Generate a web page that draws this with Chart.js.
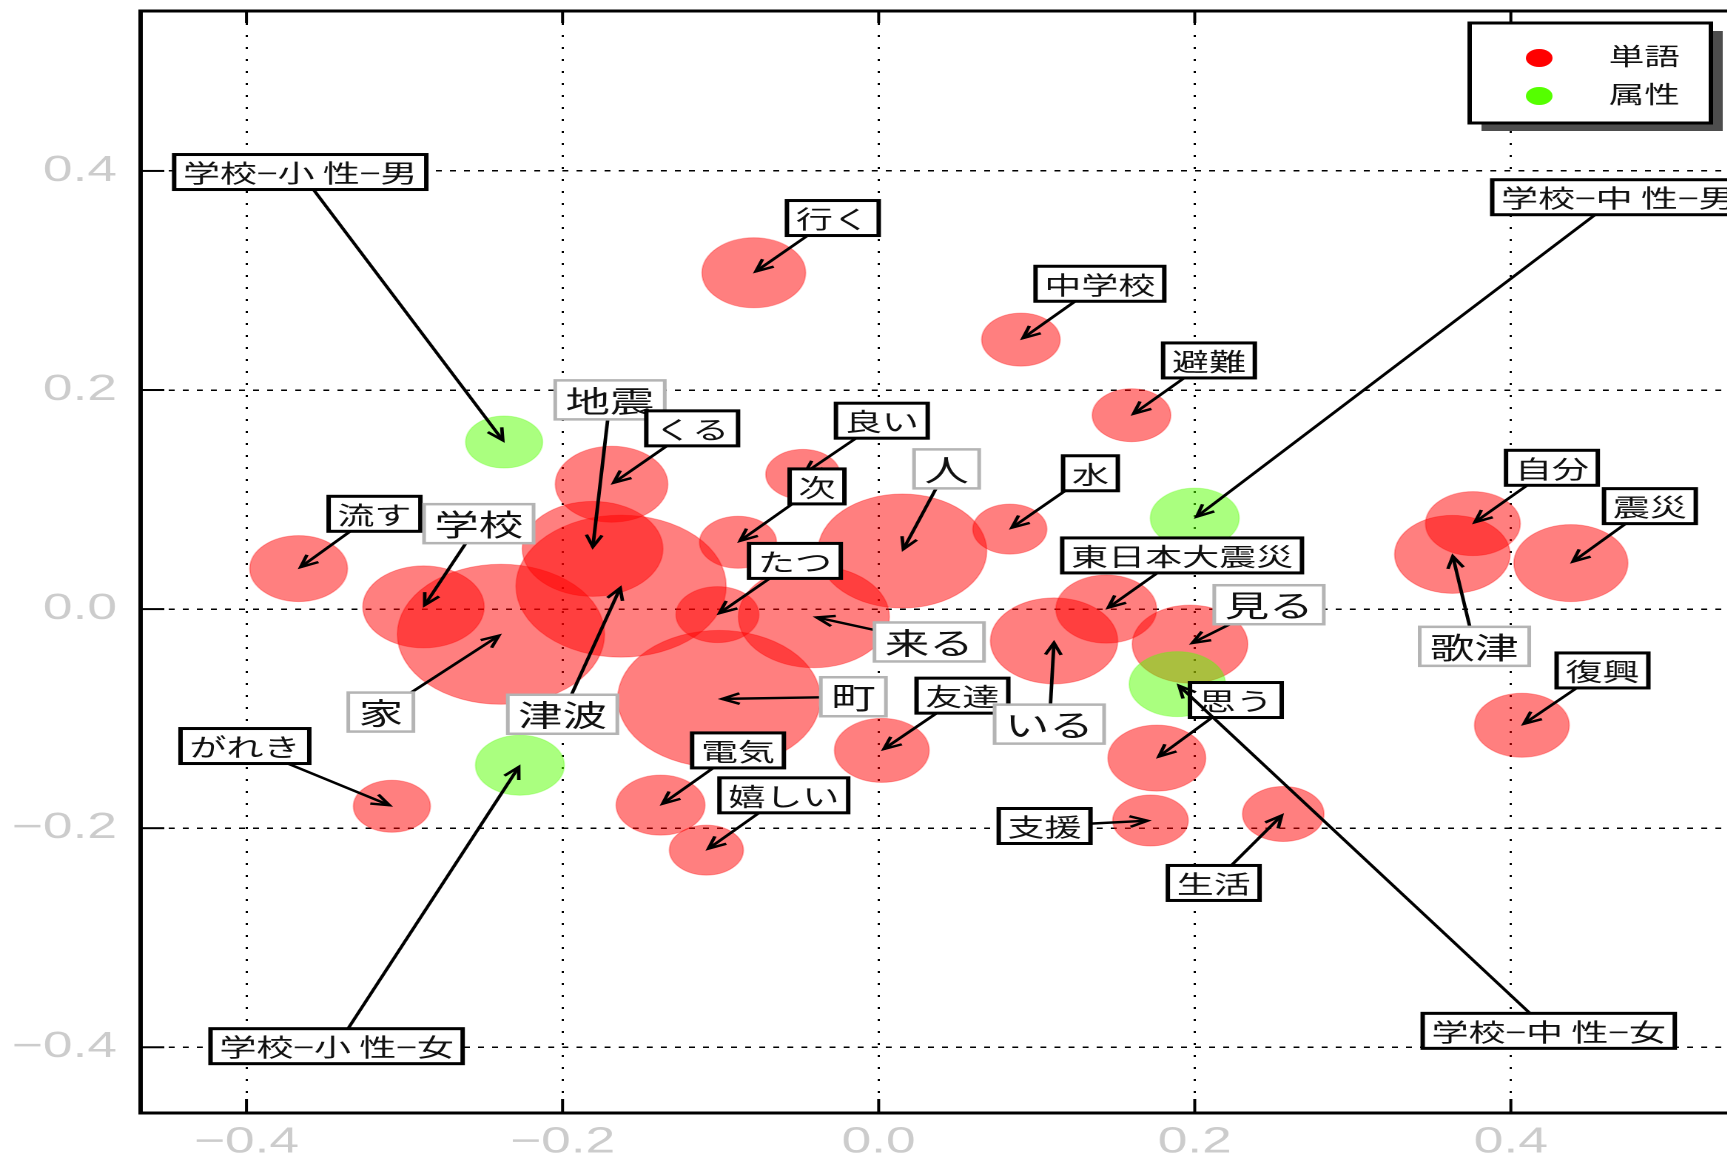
<!DOCTYPE html>
<html>
<head>
<meta charset="utf-8">
<script src="https://cdn.jsdelivr.net/npm/chart.js@4"></script>
<style>
html, body { margin: 0; padding: 0; overflow: hidden; background: #fff; }
/* 元図は横に引き伸ばされているので、キャンバスごと横に伸ばす */
#wrap { width: 1190px; height: 1156px; transform: scaleX(1.48); transform-origin: 0 0; }
</style>
</head>
<body>
<div id="wrap"><canvas id="c" width="1190" height="1156" style="width:1190px;height:1156px"></canvas></div>
<script>
// 目盛り
const xTicks = [-0.4, -0.2, 0, 0.2, 0.4];
const yTicks = [-0.4, -0.2, 0, 0.2, 0.4];

// 単語（赤）
const words = ['行く', '中学校', '避難', 'くる', '良い', '次', '人', '水', 'たつ', '来る',
    '町', '東日本大震災', 'いる', '見る', '友達', '思う', '自分', '歌津', '震災', '復興',
    '流す', '学校', '家', '津波', '地震', 'がれき', '電気', '嬉しい', '支援', '生活'];
const wordX = [-0.079, 0.090, 0.160, -0.169, -0.048, -0.089, 0.015, 0.083, -0.102, -0.041,
    -0.101, 0.144, 0.111, 0.197, 0.002, 0.176, 0.376, 0.363, 0.438, 0.407,
    -0.367, -0.288, -0.239, -0.163, -0.181, -0.308, -0.138, -0.109, 0.172, 0.256];
const wordY = [0.307, 0.246, 0.177, 0.114, 0.123, 0.061, 0.053, 0.073, -0.005, -0.007,
    -0.082, 0.000, -0.029, -0.032, -0.129, -0.136, 0.078, 0.050, 0.042, -0.106,
    0.037, 0.002, -0.023, 0.021, 0.055, -0.180, -0.179, -0.220, -0.193, -0.187];
const wordR = [35, 26.5, 26.5, 38, 25, 26, 57, 25, 28, 51,
    68.5, 34, 43, 39, 32, 33, 32, 39, 38.5, 32,
    33, 41, 70, 71, 47.5, 26, 30, 25, 25.5, 27.5];

// 属性（緑）
const attrs = ['学校−小 性−男', '学校−小 性−女', '学校−中 性−男', '学校−中 性−女'];
const attrX = [-0.237, -0.227, 0.200, 0.189];
const attrY = [0.1525, -0.1425, 0.083, -0.0685];
const attrR = [26, 30, 30, 32.5];

// ラベルの位置（データ座標）と枠の種類 1=灰色の大きい枠
const callouts = [
    ['学校−小 性−男', -0.366, 0.399, 0], ['行く', -0.029, 0.357, 0], ['中学校', 0.140, 0.297, 0],
    ['避難', 0.209, 0.227, 0], ['学校−中 性−男', 0.468, 0.376, 0], ['地震', -0.170, 0.191, 1],
    ['くる', -0.118, 0.165, 0], ['良い', 0.002, 0.172, 0], ['次', -0.039, 0.112, 0],
    ['人', 0.043, 0.128, 1], ['水', 0.134, 0.124, 0], ['流す', -0.319, 0.087, 0],
    ['学校', -0.253, 0.078, 1], ['たつ', -0.053, 0.044, 0], ['東日本大震災', 0.192, 0.049, 0],
    ['見る', 0.247, 0.004, 1], ['自分', 0.426, 0.129, 0], ['震災', 0.488, 0.094, 0],
    ['歌津', 0.377, -0.034, 1], ['来る', 0.032, -0.030, 1], ['町', -0.016, -0.080, 1],
    ['友達', 0.053, -0.079, 0], ['いる', 0.108, -0.105, 1], ['思う', 0.226, -0.083, 0],
    ['復興', 0.458, -0.056, 0], ['家', -0.315, -0.094, 1], ['津波', -0.200, -0.096, 1],
    ['がれき', -0.401, -0.125, 0], ['電気', -0.089, -0.129, 0], ['嬉しい', -0.060, -0.170, 0],
    ['支援', 0.105, -0.198, 0], ['生活', 0.212, -0.250, 0],
    ['学校−小 性−女', -0.343, -0.399, 0], ['学校−中 性−女', 0.424, -0.385, 0]
];

const CJK = '"Noto Sans CJK JP", "Noto Sans CJK SC", sans-serif';

// 目盛りラベルの書式（マイナス記号付き）
function fmtTick(v) {
    if (Math.abs(v) < 1e-9) return '0.0';
    return (v < 0 ? '\u2212' : '') + Math.abs(v).toFixed(1);
}

// 矢印を描く
function drawArrow(ctx, x1, y1, x2, y2) {
    const a = Math.atan2(y2 - y1, x2 - x1);
    const L = 13, w = 0.42;
    ctx.beginPath();
    ctx.moveTo(x1, y1);
    ctx.lineTo(x2, y2);
    ctx.stroke();
    ctx.beginPath();
    ctx.moveTo(x2 - L * Math.cos(a - w), y2 - L * Math.sin(a - w));
    ctx.lineTo(x2, y2);
    ctx.lineTo(x2 - L * Math.cos(a + w), y2 - L * Math.sin(a + w));
    ctx.stroke();
}

// 枠線と内向きの目盛り線
const framePlugin = {
    id: 'frame',
    afterDatasetsDraw(chart) {
        const ctx = chart.ctx, a = chart.chartArea;
        const xs = chart.scales.x, ys = chart.scales.y;
        ctx.save();
        ctx.strokeStyle = '#000';
        ctx.lineWidth = 2;
        xTicks.forEach(function (v) {
            const px = xs.getPixelForValue(v);
            ctx.beginPath();
            ctx.moveTo(px, a.bottom); ctx.lineTo(px, a.bottom - 14);
            ctx.moveTo(px, a.top); ctx.lineTo(px, a.top + 12);
            ctx.stroke();
        });
        yTicks.forEach(function (v) {
            const py = ys.getPixelForValue(v);
            ctx.beginPath();
            ctx.moveTo(a.left, py); ctx.lineTo(a.left + 16, py);
            ctx.stroke();
        });
        ctx.lineWidth = 3;
        ctx.strokeRect(a.left, a.top, a.right - a.left, a.bottom - a.top);
        ctx.restore();
    }
};

// ラベルと矢印
const calloutPlugin = {
    id: 'callouts',
    afterDatasetsDraw(chart) {
        const ctx = chart.ctx;
        const xs = chart.scales.x, ys = chart.scales.y;
        ctx.save();
        callouts.forEach(function (c) {
            const name = c[0], big = c[3] === 1;
            let i = words.indexOf(name), tx, ty;
            if (i >= 0) { tx = wordX[i]; ty = wordY[i]; }
            else { i = attrs.indexOf(name); tx = attrX[i]; ty = attrY[i]; }
            const cx = xs.getPixelForValue(c[1]), cy = ys.getPixelForValue(c[2]);
            const px = xs.getPixelForValue(tx), py = ys.getPixelForValue(ty);
            const size = big ? 30 : 25;
            ctx.font = size + 'px ' + CJK;
            const tw = ctx.measureText(name).width;
            const hw = tw / 2 + (big ? 7 : 6), hh = size / 2 + (big ? 4.5 : 5);
            // 枠の端から矢印を出す
            const dx = px - cx, dy = py - cy;
            const t = Math.min(hw / Math.abs(dx || 1e-6), hh / Math.abs(dy || 1e-6));
            const len = Math.hypot(dx, dy);
            const ex = px - dx / len * 2, ey = py - dy / len * 2;
            ctx.strokeStyle = '#000';
            ctx.lineWidth = 2.4;
            if (t < 1) drawArrow(ctx, cx + dx * t, cy + dy * t, ex, ey);
            ctx.fillStyle = '#fff';
            ctx.fillRect(cx - hw, cy - hh, hw * 2, hh * 2);
            ctx.strokeStyle = big ? '#b4b4b4' : '#000';
            ctx.lineWidth = big ? 2.5 : 3;
            ctx.strokeRect(cx - hw, cy - hh, hw * 2, hh * 2);
            ctx.fillStyle = '#111';
            ctx.textAlign = 'center';
            ctx.textBaseline = 'middle';
            ctx.fillText(name, cx, cy + 1);
        });
        ctx.restore();
    }
};

// 凡例（影付きの枠）
const legendPlugin = {
    id: 'boxLegend',
    afterDraw(chart) {
        const ctx = chart.ctx;
        const L = 993, T = 23, W = 163, H = 100;
        ctx.save();
        ctx.fillStyle = '#4d4d4d';
        ctx.fillRect(L + 8, T + 8, W, H);
        ctx.fillStyle = '#fff';
        ctx.fillRect(L, T, W, H);
        ctx.strokeStyle = '#000';
        ctx.lineWidth = 3;
        ctx.strokeRect(L, T, W, H);
        ctx.font = '24px ' + CJK;
        ctx.textBaseline = 'middle';
        ctx.textAlign = 'left';
        chart.data.datasets.forEach(function (ds, i) {
            const y = T + 35 + i * 38;
            ctx.fillStyle = ds.legendColor;
            ctx.beginPath();
            ctx.arc(L + 47, y, 9, 0, Math.PI * 2);
            ctx.fill();
            ctx.fillStyle = '#111';
            ctx.fillText(ds.label, L + 94, y - 2);
        });
        ctx.restore();
    }
};

const tickFont = { family: '"Liberation Sans", Arial, sans-serif', size: 36 };

new Chart(document.getElementById('c'), {
    type: 'bubble',
    data: {
        datasets: [
            {
                label: '単語',
                legendColor: '#ff0000',
                data: words.map((w, i) => ({ x: wordX[i], y: wordY[i], r: wordR[i] })),
                backgroundColor: 'rgba(255,0,0,0.5)',
                borderColor: 'rgba(255,0,0,0.3)',
                borderWidth: 1,
                order: 1
            },
            {
                label: '属性',
                legendColor: '#55ff00',
                data: attrs.map((a, i) => ({ x: attrX[i], y: attrY[i], r: attrR[i] })),
                backgroundColor: 'rgba(85,255,0,0.5)',
                borderColor: 'rgba(85,255,0,0.3)',
                borderWidth: 1,
                order: 0
            }
        ]
    },
    options: {
        responsive: false,
        animation: false,
        devicePixelRatio: 2,
        layout: { autoPadding: false, padding: { top: 11, right: 9, bottom: 0, left: 0 } },
        plugins: { legend: { display: false }, tooltip: { enabled: false } },
        scales: {
            x: {
                type: 'linear', min: -0.467, max: 0.55,
                afterBuildTicks: s => { s.ticks = xTicks.map(v => ({ value: v })); },
                afterFit: s => { s.height = 43; s.paddingLeft = 0; s.paddingRight = 0; },
                grid: { color: '#000', lineWidth: 1.5, drawTicks: false, borderDash: [2, 10] },
                border: { display: false, dash: [2, 10] },
                ticks: { padding: 8, color: '#cccccc', font: tickFont, maxRotation: 0, callback: fmtTick }
            },
            y: {
                type: 'linear', min: -0.46, max: 0.546,
                afterBuildTicks: s => { s.ticks = yTicks.map(v => ({ value: v })); },
                afterFit: s => { s.width = 95; s.paddingTop = 0; s.paddingBottom = 0; },
                grid: { color: '#000', lineWidth: 1.5, drawTicks: false, borderDash: [4, 5.5] },
                border: { display: false, dash: [4, 5.5] },
                ticks: { padding: 16, color: '#cccccc', font: tickFont, callback: fmtTick }
            }
        }
    },
    plugins: [framePlugin, calloutPlugin, legendPlugin]
});
</script>
</body>
</html>
